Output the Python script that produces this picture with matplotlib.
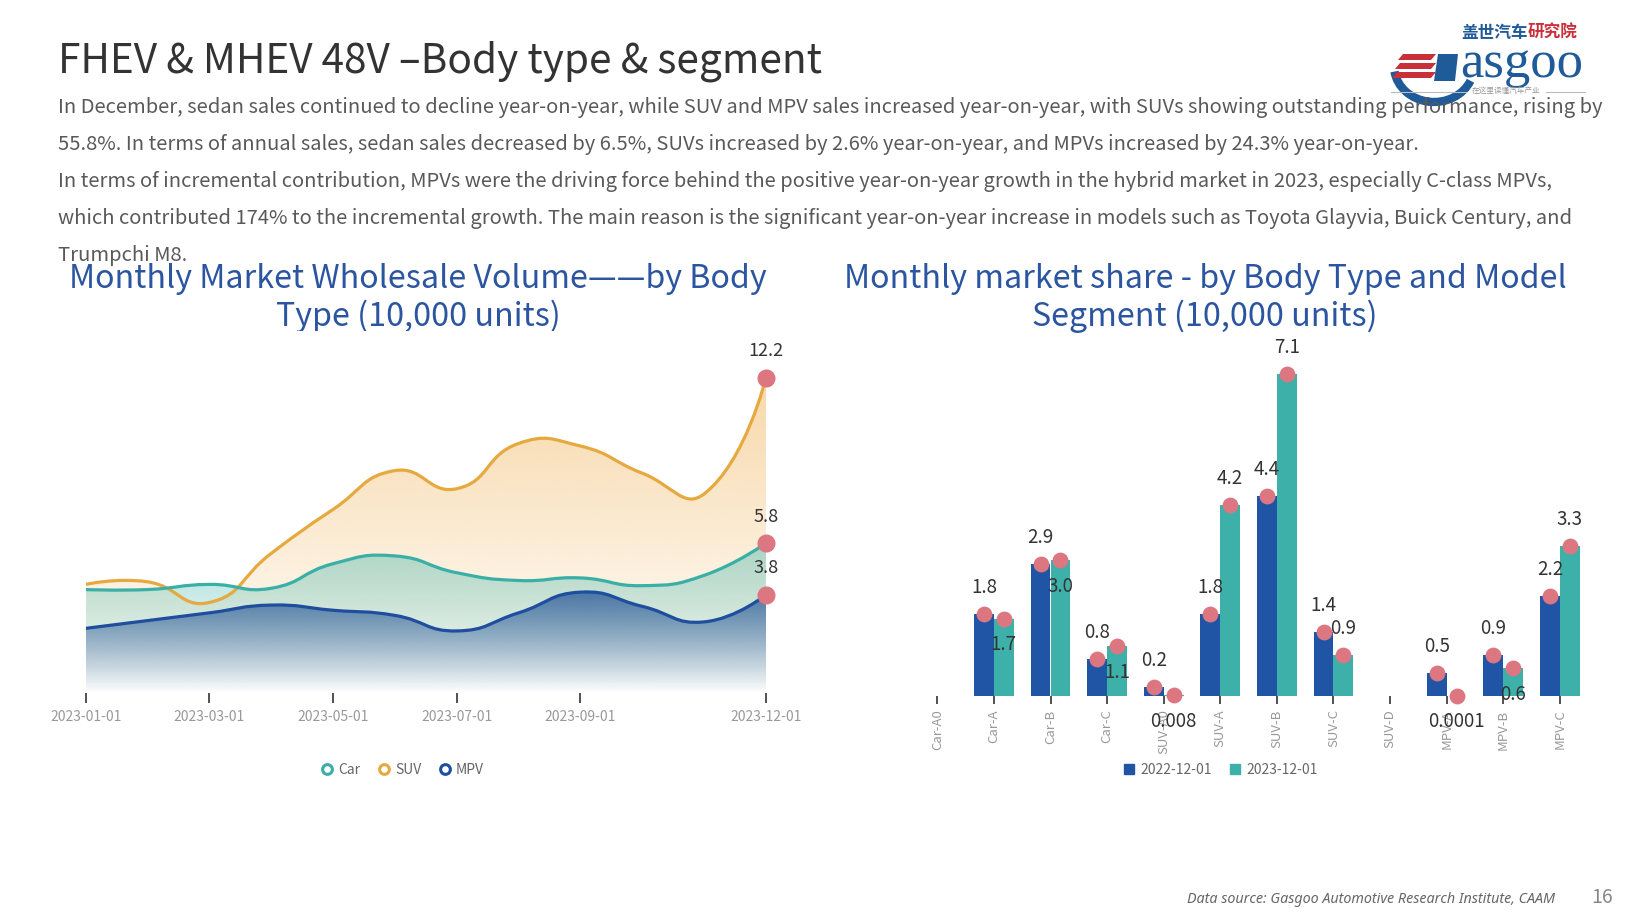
import numpy as np
import matplotlib
matplotlib.use("Agg")
import matplotlib.pyplot as plt
from matplotlib.path import Path
from matplotlib.patches import PathPatch, Arc, Polygon
from matplotlib.lines import Line2D

plt.rcParams['font.family'] = ['Noto Sans CJK SC', 'DejaVu Sans']

# ---- data: monthly wholesale volume by body type (10,000 units)
months = ['2023-01-01', '2023-02-01', '2023-03-01', '2023-04-01', '2023-05-01', '2023-06-01',
          '2023-07-01', '2023-08-01', '2023-09-01', '2023-10-01', '2023-11-01', '2023-12-01']
car = [4.0, 4.0, 4.2, 4.05, 5.0, 5.3, 4.65, 4.35, 4.45, 4.15, 4.55, 5.8]
suv = [4.2, 4.3, 3.5, 5.4, 7.1, 8.6, 7.9, 9.65, 9.55, 8.5, 7.7, 12.2]
mpv = [2.5, 2.8, 3.1, 3.4, 3.2, 3.0, 2.4, 3.1, 3.9, 3.35, 2.75, 3.8]
month_ticks = [0, 2, 4, 6, 8, 11]

# ---- data: December volume by body type and segment (10,000 units)
segments = ['Car-A0', 'Car-A', 'Car-B', 'Car-C', 'SUV-A0', 'SUV-A', 'SUV-B', 'SUV-C',
            'SUV-D', 'MPV-A', 'MPV-B', 'MPV-C']
dec_2022 = [None, 1.8, 2.9, 0.8, 0.2, 1.8, 4.4, 1.4, None, 0.5, 0.9, 2.2]
dec_2023 = [None, 1.7, 3.0, 1.1, 0.008, 4.2, 7.1, 0.9, None, 0.0001, 0.6, 3.3]
# where the chart pushed the 2023 label under the bar top to avoid overlap
label_2023_below = [False, True, True, True, True, False, False, False, False, True, True, False]

body_lines = [
    "In December, sedan sales continued to decline year-on-year, while SUV and MPV sales increased year-on-year, with SUVs showing outstanding performance, rising by",
    "55.8%. In terms of annual sales, sedan sales decreased by 6.5%, SUVs increased by 2.6% year-on-year, and MPVs increased by 24.3% year-on-year.",
    "In terms of incremental contribution, MPVs were the driving force behind the positive year-on-year growth in the hybrid market in 2023, especially C-class MPVs,",
    "which contributed 174% to the incremental growth. The main reason is the significant year-on-year increase in models such as Toyota Glayvia, Buick Century, and",
    "Trumpchi M8.",
]

CAR_C = '#3aafa6'
SUV_C = '#e5a93f'
MPV_C = '#1f4e9e'
DOT_C = '#dc7781'
BAR22_C = '#2055a5'
BAR23_C = '#3db0aa'
TITLE_C = '#2b55a0'
LOGO_BLUE = '#1f5b98'
LOGO_RED = '#c8313a'

W, H = 1640, 922
fig = plt.figure(figsize=(W / 100, H / 100), dpi=100)

# full-page overlay in pixel coordinates for slide text
bg = fig.add_axes([0, 0, 1, 1])
bg.set_xlim(0, W)
bg.set_ylim(H, 0)
bg.axis('off')

bg.text(58, 61, "FHEV & MHEV 48V \u2013Body type & segment", fontsize=29.2, color='#333333',
        va='center', ha='left')
for i, line in enumerate(body_lines):
    bg.text(58, 108 + i * 36.8, line, fontsize=14.5, color='#595959', va='center', ha='left')

bg.text(418, 298, "Monthly Market Wholesale Volume\u2014\u2014by Body\nType (10,000 units)",
        fontsize=23.2, color=TITLE_C, ha='center', va='center', linespacing=1.2)
bg.text(1205, 298, "Monthly market share - by Body Type and Model\nSegment (10,000 units)",
        fontsize=23.2, color=TITLE_C, ha='center', va='center', linespacing=1.2)

bg.text(1555, 899, "Data source: Gasgoo Automotive Research Institute, CAAM", fontsize=10.3,
        family='Noto Sans', style='italic', color='#666666', ha='right', va='center')
bg.text(1602, 897, "16", fontsize=14, color='#888888', ha='center', va='center')

# logo (approximation)
bg.text(1461, 33, "盖世汽车", fontsize=12, fontweight='bold', color=LOGO_BLUE, ha='left', va='center')
bg.text(1528, 33, "研究院", fontsize=12, fontweight='bold', color=LOGO_RED, ha='left', va='center')
bg.add_patch(Arc((1434, 66), 80, 72, theta1=22, theta2=172, lw=6, color=LOGO_BLUE))
for k in range(3):
    y0 = 54 + k * 9
    bg.add_patch(Polygon([(1398 - k * 3, y0 + 6), (1403 - k * 3, y0), (1436, y0), (1431, y0 + 6)],
                         closed=True, color=LOGO_RED, lw=0))
bg.add_patch(Polygon([(1438, 54), (1458, 54), (1455, 81), (1434, 81)], closed=True,
                     color=LOGO_BLUE, lw=0))
bg.text(1460, 64, "asgoo", fontsize=38, family='Liberation Serif', color=LOGO_BLUE,
        ha='left', va='center')
bg.plot([1391, 1466], [92, 92], color='#bbbbbb', lw=0.8)
bg.plot([1546, 1585], [92, 92], color='#bbbbbb', lw=0.8)
bg.text(1506, 92, "在这里读懂汽车产业", fontsize=5.5, color='#999999', ha='center', va='center')

# faint watermarks
for cx, cy in [(410, 590), (1235, 585)]:
    bg.text(cx, cy, "Gasgoo", fontsize=58, color='#cccccc', alpha=0.35, rotation=32,
            ha='center', va='center', family='Liberation Serif')
    bg.text(cx + 10, cy - 70, "盖世汽车", fontsize=22, color='#cccccc', alpha=0.35, rotation=32,
            ha='center', va='center')


def smooth_path(xs, ys, sx, sy, smooth=0.5):
    # bezier path through the points, like an echarts smooth line
    n = len(xs)
    verts = [(xs[0], ys[0])]
    codes = [Path.MOVETO]
    cp0 = (xs[0], ys[0])
    for i in range(1, n):
        x, y = xs[i], ys[i]
        px, py = xs[i - 1], ys[i - 1]
        if i == n - 1:
            cp1 = (x, y)
            vx = vy = 0.0
            r = 0.5
        else:
            nx, ny = xs[i + 1], ys[i + 1]
            vx, vy = nx - px, ny - py
            d0 = np.hypot((x - px) * sx, (y - py) * sy)
            d1 = np.hypot((nx - x) * sx, (ny - y) * sy)
            r = d1 / (d0 + d1)
            cp1 = (x - vx * smooth * (1 - r), y - vy * smooth * (1 - r))
        verts += [cp0, cp1, (x, y)]
        codes += [Path.CURVE4] * 3
        cp0 = (x + vx * smooth * r, y + vy * smooth * r)
    return verts, codes


# ---- left chart
ax1 = fig.add_axes([85.7 / W, 1 - 693 / H, (766 - 85.7) / W, 14 * 25.86 / H])
xs = np.arange(len(months))
series = [(suv, SUV_C, (242, 184, 98), 0.55),
          (car, CAR_C, (58, 180, 172), 0.42),
          (mpv, MPV_C, (35, 84, 150), 0.75)]
for z, (vals, col, fill_rgb, a_top) in enumerate(series):
    verts, codes = smooth_path(xs, vals, 61.85, 25.86)
    area = Path(verts + [(xs[-1], 0), (xs[0], 0), (xs[0], vals[0])],
                codes + [Path.LINETO, Path.LINETO, Path.CLOSEPOLY])
    clip = PathPatch(area, facecolor='none', edgecolor='none')
    ax1.add_patch(clip)
    grad = np.zeros((256, 1, 4))
    grad[..., :3] = np.array(fill_rgb) / 255
    grad[..., 3] = np.linspace(0, a_top, 256)[:, None]
    im = ax1.imshow(grad, extent=[xs[0], xs[-1], 0, max(vals)], origin='lower',
                    aspect='auto', zorder=1 + z * 0.1, interpolation='bilinear')
    im.set_clip_path(clip)
for vals, col, _, _ in series:
    verts, codes = smooth_path(xs, vals, 61.85, 25.86)
    ax1.add_patch(PathPatch(Path(verts, codes), facecolor='none', edgecolor=col, lw=2.3,
                            zorder=3, capstyle='round'))
for vals in (suv, car, mpv):
    ax1.plot(xs[-1], vals[-1], 'o', ms=12, color=DOT_C, zorder=4, clip_on=False)
    ax1.annotate(f"{vals[-1]:.1f}", (xs[-1], vals[-1]), xytext=(0, 19), textcoords='offset points',
                 ha='center', va='center', fontsize=13, color='#333333', annotation_clip=False)
ax1.set_xlim(0, 11)
ax1.set_ylim(0, 14)
ax1.set_xticks(month_ticks)
ax1.set_xticklabels([months[i] for i in month_ticks])
ax1.tick_params(axis='x', length=7, width=1.2, color='#333333', labelcolor='#999999',
                labelsize=10, pad=5)
ax1.set_yticks([])
for s in ax1.spines.values():
    s.set_visible(False)

h1 = [Line2D([], [], marker='o', ls='none', ms=7, mfc='white', mec=c, mew=2.2)
      for c in (CAR_C, SUV_C, MPV_C)]
fig.legend(h1, ['Car', 'SUV', 'MPV'], loc='center', bbox_to_anchor=(402 / W, 1 - 770 / H),
           ncol=3, frameon=False, fontsize=10, labelcolor='#666666', handletextpad=0.3,
           columnspacing=1.2, handlelength=1)

# ---- right chart
ax2 = fig.add_axes([(937.3 - 28.3) / W, 1 - 695.6 / H, 56.6 * 12 / W, 8 * 45.3 / H])
bw = 0.35
for vals, off, col in ((dec_2022, -bw / 2, BAR22_C), (dec_2023, bw / 2, BAR23_C)):
    pos = [i + off for i, v in enumerate(vals) if v is not None]
    hts = [v for v in vals if v is not None]
    ax2.bar(pos, hts, width=bw, color=col, zorder=2)
    ax2.scatter(pos, hts, s=130, color=DOT_C, zorder=3, clip_on=False, lw=0)


def fmt(v):
    return f"{v:.1f}" if v >= 0.1 else f"{v:g}"


for i, v in enumerate(dec_2022):
    if v is not None:
        ax2.annotate(fmt(v), (i - bw / 2, v), xytext=(0, 19), textcoords='offset points',
                     ha='center', va='center', fontsize=13.5, color='#333333', zorder=5)
for i, v in enumerate(dec_2023):
    if v is not None:
        dy = -19 if label_2023_below[i] else 19
        ax2.annotate(fmt(v), (i + bw / 2, v), xytext=(0, dy), textcoords='offset points',
                     ha='center', va='center', fontsize=13.5, color='#333333', zorder=5,
                     annotation_clip=False)
ax2.set_xlim(-0.5, len(segments) - 0.5)
ax2.set_ylim(0, 8)
ax2.set_xticks(np.arange(len(segments)))
ax2.set_xticklabels(segments, rotation=90, ha='center', va='top')
ax2.tick_params(axis='x', length=6, width=1.2, color='#333333', labelcolor='#999999',
                labelsize=9.5, pad=4)
ax2.set_yticks([])
for s in ax2.spines.values():
    s.set_visible(False)

h2 = [Line2D([], [], marker='s', ls='none', ms=7, color=c) for c in (BAR22_C, BAR23_C)]
fig.legend(h2, ['2022-12-01', '2023-12-01'], loc='center', bbox_to_anchor=(1220 / W, 1 - 770 / H),
           ncol=2, frameon=False, fontsize=10, labelcolor='#666666', handletextpad=0.3,
           columnspacing=1.2, handlelength=1)

fig.savefig('out.png', dpi=100)
